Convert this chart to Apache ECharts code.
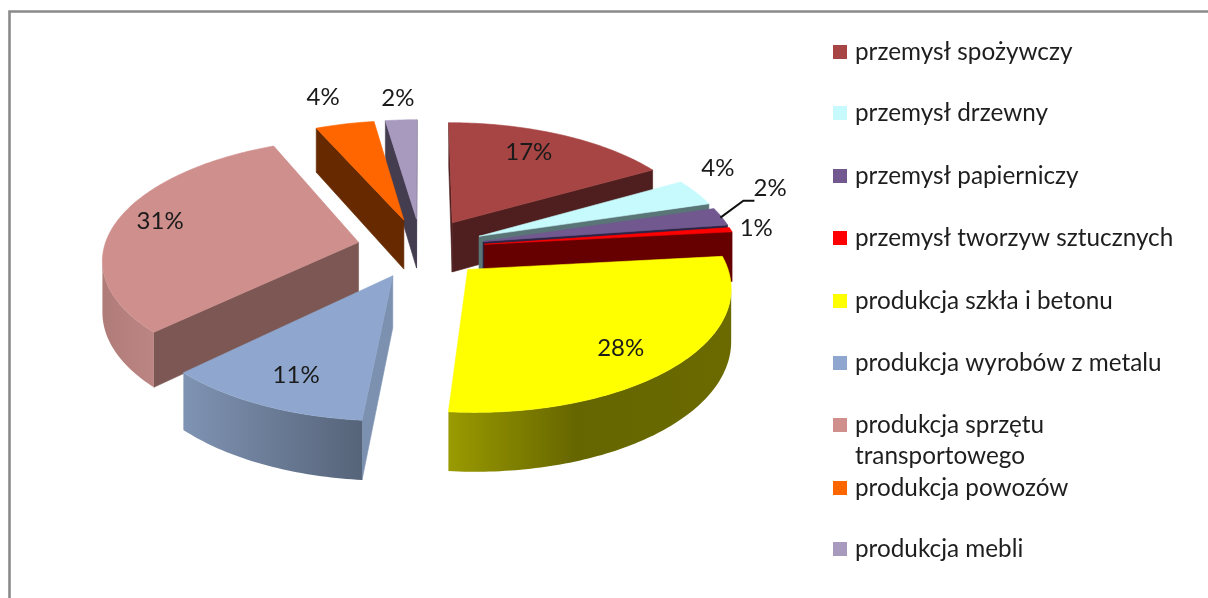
<!DOCTYPE html>
<html>
<head>
<meta charset="utf-8">
<style>html,body{margin:0;padding:0;background:#fff}#c{width:1208px;height:598px}</style>
<script src="https://cdn.jsdelivr.net/npm/echarts@6/dist/echarts.min.js"></script>
</head>
<body>
<div id="c"></div>
<script>
// ---- data
const categories = ['przemysł spożywczy','przemysł drzewny','przemysł papierniczy','przemysł tworzyw sztucznych','produkcja szkła i betonu','produkcja wyrobów z metalu','produkcja sprzętu\ntransportowego','produkcja powozów','produkcja mebli'];
const values = [16.7,3.6,2.4,0.6,28.1,11.3,30.7,4.3,2.3];

// ---- styles
const topColors  = ['#a64543','#c6fafc','#71588f','#ff0000','#ffff00','#8fa7ce','#ce8f8d','#ff6600','#a899bf'];
const sideColors = ['#4f1f1f','#5a7577','#2e2345','#660000','#666600','#7c90b0','#7c5753','#662900','#443d50'];
const arcShades  = [null,null,null,null,
  [[0,'#9a9a00'],[0.45,'#666600'],[1,'#6a6a00']],
  [[0,'#7f93b3'],[1,'#566479']],
  [[0,'#b07c79'],[1,'#bb8583']],
  null,null];

// ---- layout
const cx=421, cy=248, R=254.5, explode=64, D=2000, tilt=0.467, wall=50.5;
const labelTurn = [-3,-8,-8.8,0,3.5,-1,2,-1,0];           // degrees from the slice middle
const labelReach= [.76,1.225,1.31,1.105,.79,.785,.83,1.33,1.25]; // share of radius
const legendMiddles=[52,113,176,238,301,363,425,488,549];
const fontName='Lato, "Noto Sans", sans-serif';
const fontPx=24.3, lineH=31;

const total=values.reduce((a,b)=>a+b,0);
const rad=d=>d*Math.PI/180;
function project(bis,deg,r){
  const u=explode*Math.sin(rad(bis))+r*Math.sin(rad(deg));
  const v=explode*Math.cos(rad(bis))+r*Math.cos(rad(deg));
  const s=D/(D+v);
  return {x:cx+u*s,y:cy-v*tilt*s,s};
}
function drop(p){return [p.x,p.y+wall*p.s];}
function pt(p){return [p.x,p.y];}
function poly(points,fill){
  return {type:'polygon',silent:true,shape:{points},style:{fill,stroke:typeof fill==='string'?fill:null,lineWidth:typeof fill==='string'?0.6:0}};
}
function sliceRenderer(i,startDeg){
  return function(params,api){
    const a0=startDeg, a1=startDeg+api.value(0)/total*360, mid=(a0+a1)/2;
    const apex=project(mid,0,0), arc=[];
    for(let d=0,n=Math.max(4,Math.ceil(a1-a0));d<=n;d++){arc.push(project(mid,a0+(a1-a0)*d/n,R));}
    const kids=[];
    // first radial wall
    if(arc[0].x<apex.x) kids.push(poly([pt(apex),pt(arc[0]),drop(arc[0]),drop(apex)],sideColors[i]));
    // closing radial wall
    const last=arc[arc.length-1];
    if(apex.x<last.x) kids.push(poly([pt(last),pt(apex),drop(apex),drop(last)],sideColors[i]));
    // visible outer wall
    let vis=[];
    for(let k=0;k<arc.length-1;k++){ if(arc[k+1].x<arc[k].x){ if(!vis.length)vis.push(arc[k]); vis.push(arc[k+1]); } }
    if(vis.length>1){
      const shade=arcShades[i];
      const fill=shade?new echarts.graphic.LinearGradient(0,0,1,0,shade.map(c=>({offset:c[0],color:c[1]}))):sideColors[i];
      kids.push(poly(vis.map(pt).concat(vis.slice().reverse().map(drop)),fill));
    }
    // top
    kids.push(poly([pt(apex)].concat(arc.map(pt)),topColors[i]));
    // percent label
    const lp=project(mid,mid+labelTurn[i],R*labelReach[i]);
    kids.push({type:'text',silent:true,z2:50,style:{x:lp.x,y:lp.y,text:Math.round(api.value(0))+'%',fill:'#1a1a1a',font:'24px '+fontName,align:'center',verticalAlign:'middle'}});
    // leader line for the narrow purple slice
    if(i===2){
      const m=project(mid,mid,R);
      kids.push({type:'polyline',silent:true,z2:40,shape:{points:[[m.x-1,m.y+1],[m.x+22,m.y-16],[m.x+33,m.y-16]]},style:{stroke:'#111',lineWidth:2,fill:null}});
    }
    return {type:'group',children:kids};
  };
}

const mids=[]; let run=0;
const starts=values.map(v=>{const s=run/total*360; run+=v; mids.push(s+v/total*180); return s;});
const paintRank=mids.map((m,i)=>i).sort((a,b)=>Math.cos(rad(mids[b]))-Math.cos(rad(mids[a])));

const series=categories.map((name,i)=>({
  type:'custom',name,coordinateSystem:'none',clip:false,silent:true,animation:false,
  z:2+paintRank.indexOf(i),
  itemStyle:{color:topColors[i]},
  data:[[values[i]]],
  renderItem:sliceRenderer(i,starts[i])
}));
const legends=categories.map((name,i)=>{
  const two=name.indexOf('\n')>=0;
  return {
    show:true,orient:'vertical',left:833,padding:0,
    top:legendMiddles[i]-(two?lineH*1.5:lineH/2),
    data:[name],icon:'rect',itemWidth:14,itemHeight:14,selectedMode:false,
    formatter:n=>two?'\n'+n:n,
    textStyle:{fontFamily:fontName,fontSize:fontPx,color:'#1e1e1e',lineHeight:lineH,padding:[0,0,0,3]}
  };
});
const chart=echarts.init(document.getElementById('c'),null,{renderer:'canvas'});
chart.setOption({
  animation:false,backgroundColor:'#fff',
  legend:legends,
  graphic:[{type:'polyline',silent:true,shape:{points:[[9.5,598],[9.5,11.5],[1208,11.5]]},style:{stroke:'#8a8a8a',lineWidth:2.6,fill:null}}],
  series
});
</script>
</body>
</html>
